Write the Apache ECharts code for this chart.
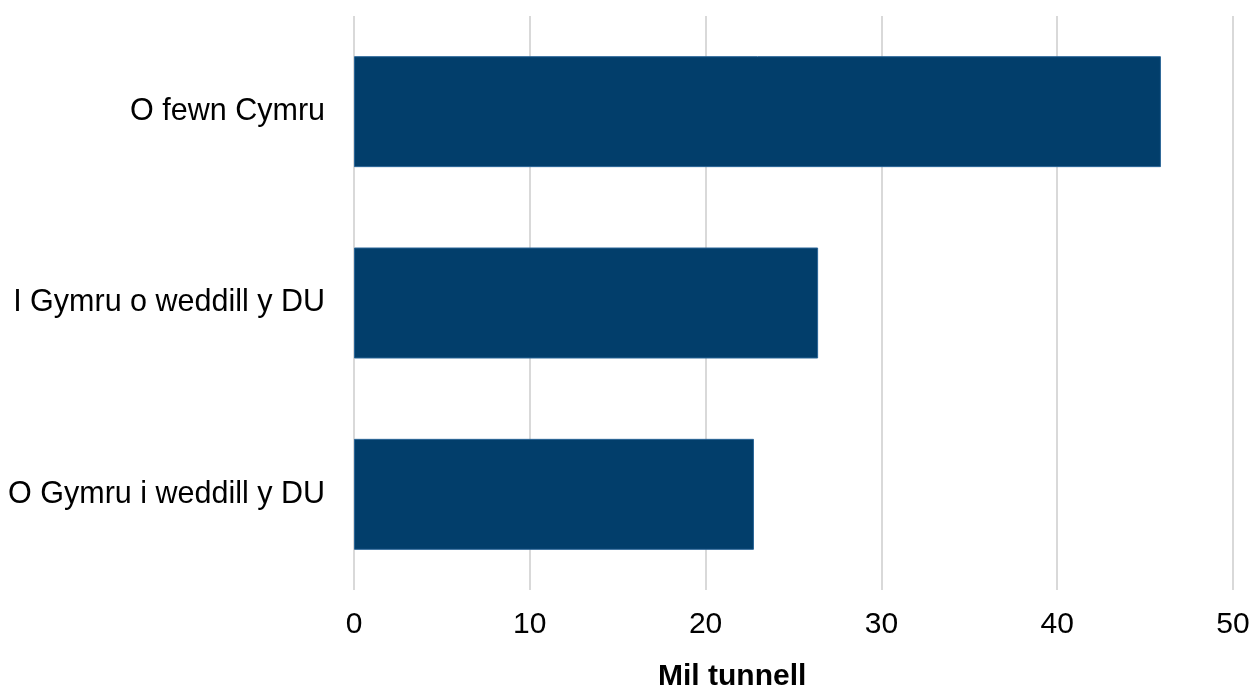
<!DOCTYPE html>
<html>
<head>
<meta charset="utf-8">
<script src="https://cdn.jsdelivr.net/npm/echarts@6/dist/echarts.min.js"></script>
<style>html,body{margin:0;padding:0;background:#fff}#c{width:1253px;height:686px}</style>
</head>
<body>
<div id="c"></div>
<script>
const categories = ["O fewn Cymru", "I Gymru o weddill y DU", "O Gymru i weddill y DU"];
const values = [45.9, 26.4, 22.75];
const xTicks = [0, 10, 20, 30, 40, 50];
const axisTitle = "Mil tunnell";

const FONT = 'Liberation Sans, Arial, sans-serif';
const chart = echarts.init(document.getElementById('c'));
chart.setOption({
  animation: false,
  grid: { left: 354, right: 20, top: 16, bottom: 96, containLabel: false },
  title: {
    text: axisTitle, left: 653, top: 657,
    textStyle: { fontFamily: FONT, fontSize: 30, fontWeight: 'bold', color: '#000' }
  },
  xAxis: {
    type: 'value', min: xTicks[0], max: xTicks[xTicks.length - 1], interval: 10,
    axisLine: { show: false }, axisTick: { show: false },
    splitLine: { show: true, lineStyle: { color: '#d9d9d9', width: 2 } },
    axisLabel: { fontFamily: FONT, fontSize: 30, color: '#000', margin: 20 }
  },
  yAxis: {
    type: 'category', data: categories, inverse: true,
    axisLine: { show: false }, axisTick: { show: false },
    axisLabel: { fontFamily: FONT, fontSize: 30.5, color: '#000', margin: 29 }
  },
  series: [{
    type: 'bar', data: values, barCategoryGap: '42%',
    itemStyle: { color: '#023e6b', borderColor: '#2a6597', borderWidth: 1 }
  }]
});
</script>
</body>
</html>
